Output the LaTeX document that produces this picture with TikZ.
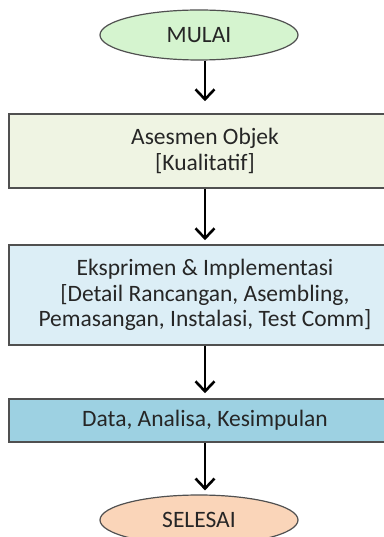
\documentclass[tikz,border=0pt]{standalone}
\usepackage{fontspec}
\setmainfont{Carlito}
\usetikzlibrary{shapes.geometric,arrows.meta}
\definecolor{startgreen}{HTML}{D5F4CF}
\definecolor{assessgreen}{HTML}{EFF4E3}
\definecolor{explight}{HTML}{DCEEF6}
\definecolor{datablue}{HTML}{9DD1E2}
\definecolor{endpeach}{HTML}{FAD5B9}
\definecolor{edgegray}{HTML}{505050}
\tikzset{
  terminal/.style={ellipse, draw=edgegray, line width=1.2pt, minimum width=198pt, minimum height=50pt, inner sep=0pt},
  stage/.style={rectangle, draw=edgegray, line width=1.6pt, minimum width=392pt, align=center, inner sep=0pt},
  flow/.style={line width=1.2pt, -{Straight Barb[length=10pt,width=19pt,line width=2.6pt]}}
}
\begin{document}
\begin{tikzpicture}[x=1pt, y=-1pt, font=\fontsize{23.5}{25.5}\selectfont, text=black!85]
  \useasboundingbox (0,0) rectangle (383,537);

  % terminals
  \node[terminal, fill=startgreen] (mulai) at (199,35) {MULAI};
  \node[terminal, fill=endpeach] (selesai) at (199,520) {SELESAI};

  % stages
  \node[stage, fill=assessgreen, minimum height=74pt] (asesmen) at (205,151)
    {Asesmen Objek\\{}[Kualitatif]};
  \node[stage, fill=explight, minimum height=100pt] (eksperimen) at (205,295)
    {Eksprimen \& Implementasi\\{}[Detail Rancangan, Asembling,\\Pemasangan, Instalasi, Test Comm]};
  \node[stage, fill=datablue, minimum height=43pt] (data) at (205,420.5)
    {Data, Analisa, Kesimpulan};

  % connectors
  \draw[flow, shorten >=12pt] (mulai.south -| asesmen.north) -- (asesmen.north);
  \draw[flow, shorten >=4pt] (asesmen) -- (eksperimen);
  \draw[flow, shorten >=5pt] (eksperimen) -- (data);
  \draw[flow, shorten >=4pt] (data.south) -- (data.south |- selesai.north);
\end{tikzpicture}
\end{document}
